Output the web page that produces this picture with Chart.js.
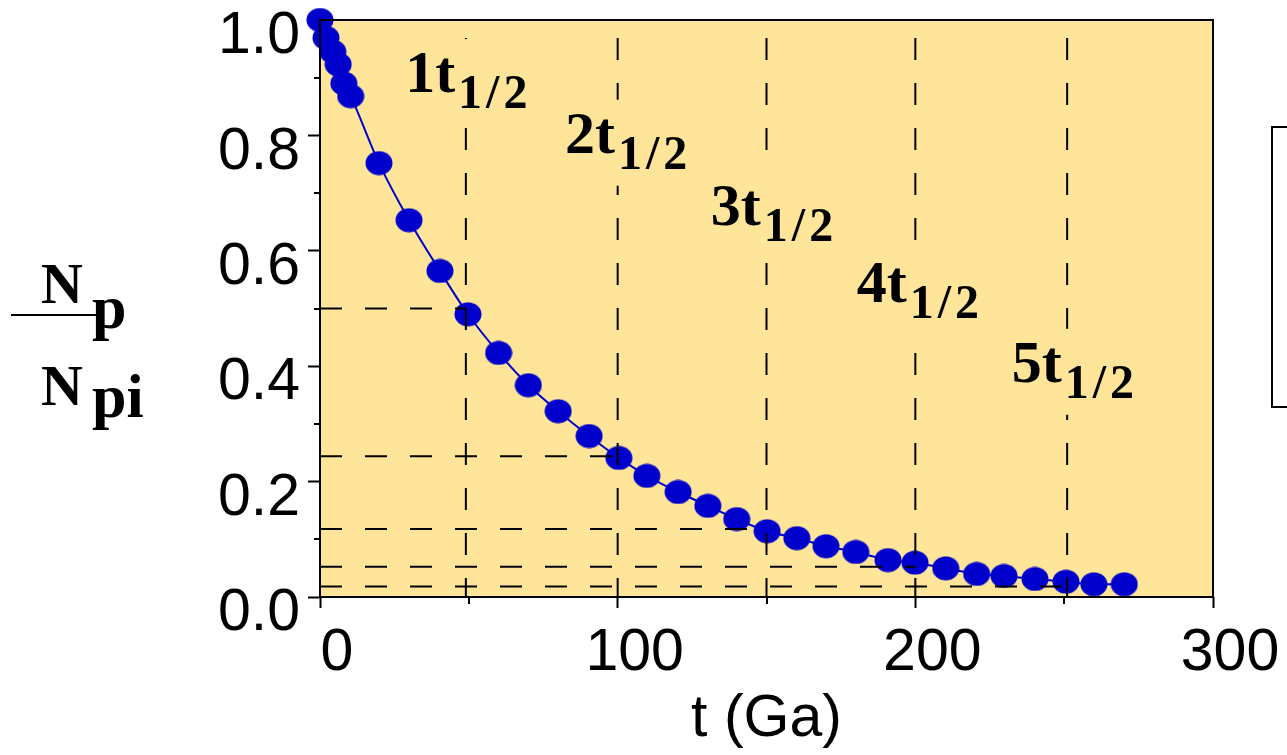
<!DOCTYPE html>
<html lang="en">
<head>
<meta charset="UTF-8">
<title>Radioactive decay and half-lives</title>
<style>
    body { margin: 0; background: #fff; }
    #wrap { width: 1287px; height: 755px; }
</style>
</head>
<body>
<div id="wrap"><canvas id="decayChart" width="1287" height="755"></canvas></div>

<script src="https://cdn.jsdelivr.net/npm/chart.js"></script>
<script>
    // elapsed time t (Ga) and remaining fraction Np/Npi
    const times = [0, 2, 4.3, 6.1, 8, 10.3, 19.8, 29.9, 40.3, 49.7, 60, 70, 80, 90.4, 100.4, 109.8,
        120.3, 130.3, 140, 150.2, 160.2, 170, 180, 190.8, 199.9, 210.2, 220.6, 229.8, 240.2, 250.6, 260, 270.2];
    const fractions = [1.0, 0.969, 0.945, 0.923, 0.890, 0.868, 0.752, 0.653, 0.565, 0.490, 0.423, 0.367,
        0.322, 0.279, 0.241, 0.210, 0.182, 0.158, 0.135, 0.114, 0.102, 0.088, 0.078, 0.064, 0.0595,
        0.0497, 0.0399, 0.0364, 0.0312, 0.0265, 0.022, 0.022];

    // dashed guide lines: one per half-life
    const halfLifeTimes = [49, 100, 150, 200, 251];
    const halfLifeLevels = [0.5, 0.244, 0.118, 0.0525, 0.018];
    const halfLifeNames = ['1', '2', '3', '4', '5'];

    const xTickValues = [0, 100, 200, 300];
    const xMinorTicks = [50, 150, 250];
    const yMinorTicks = [0.1, 0.3, 0.5, 0.7, 0.9];

    const PLOT_BG = '#fee59a';
    const BLUE = '#0000cc';
    const SANS = '"Liberation Sans", Arial, sans-serif';
    const SERIF = '"Liberation Serif", "Times New Roman", serif';

    // ellipse marker (a bit wider than tall)
    function makeMarker() {
        const c = document.createElement('canvas');
        c.width = 28; c.height = 25;
        const g = c.getContext('2d');
        g.fillStyle = BLUE;
        g.beginPath();
        g.ellipse(14, 12.5, 13.5, 12, 0, 0, Math.PI * 2);
        g.fill();
        return c;
    }

    // where each "n t1/2" label sits (text baseline, left edge), in data units
    const labelAnchors = [[28.6, 0.875], [82.3, 0.770], [131.3, 0.645], [180.3, 0.511], [232.4, 0.373]];

    // draws "1/2" with a little extra room between the glyphs, returns the width
    function drawSubscript(ctx, x, y) {
        let cx = x;
        ['1', '/', '2'].forEach(ch => {
            ctx.fillText(ch, cx, y);
            cx += ctx.measureText(ch).width + 4;
        });
        return cx - x;
    }

    const decorations = {
        id: 'decorations',
        beforeDraw(chart) {
            const { ctx, chartArea: a } = chart;
            ctx.save();
            ctx.fillStyle = PLOT_BG;
            ctx.fillRect(a.left, a.top, a.right - a.left, a.bottom - a.top);
            ctx.restore();
        },
        afterDatasetsDraw(chart) {
            const { ctx, chartArea: a, scales: { x, y } } = chart;
            ctx.save();
            ctx.strokeStyle = '#000';
            ctx.lineWidth = 2;
            ctx.setLineDash([22, 23]);
            halfLifeTimes.forEach((t, i) => {
                const px = x.getPixelForValue(t);
                ctx.lineDashOffset = 3;
                ctx.beginPath(); ctx.moveTo(px, a.bottom); ctx.lineTo(px, a.top); ctx.stroke();
                const py = y.getPixelForValue(halfLifeLevels[i]);
                ctx.lineDashOffset = 0;
                ctx.beginPath(); ctx.moveTo(a.left, py); ctx.lineTo(px, py); ctx.stroke();
            });
            ctx.setLineDash([]);

            labelAnchors.forEach((p, i) => {
                const lx = x.getPixelForValue(p[0]);
                const ly = y.getPixelForValue(p[1]);
                const main = halfLifeNames[i] + 't';
                ctx.font = 'bold 60px ' + SERIF;
                const w1 = ctx.measureText(main).width;
                ctx.fillStyle = PLOT_BG;
                ctx.fillRect(lx - 3, ly - 53, w1 + 80, 86);
                ctx.fillStyle = '#000';
                ctx.textBaseline = 'alphabetic';
                ctx.textAlign = 'left';
                ctx.fillText(main, lx, ly);
                ctx.font = 'bold 48px ' + SERIF;
                drawSubscript(ctx, lx + w1 + 3, ly + 16);
            });
            ctx.restore();
        },
        afterDraw(chart) {
            const { ctx, chartArea: a, scales: { x, y } } = chart;
            ctx.save();
            ctx.strokeStyle = '#000';
            ctx.lineWidth = 2;
            ctx.strokeRect(a.left, a.top, a.right - a.left, a.bottom - a.top);

            // minor ticks
            ctx.beginPath();
            yMinorTicks.forEach(v => {
                const py = Math.round(y.getPixelForValue(v));
                ctx.moveTo(a.left - 6, py); ctx.lineTo(a.left, py);
            });
            xMinorTicks.forEach(v => {
                const px = Math.round(x.getPixelForValue(v));
                ctx.moveTo(px, a.bottom); ctx.lineTo(px, a.bottom + 7);
            });
            ctx.stroke();

            // y axis title as a fraction
            ctx.fillStyle = '#000';
            ctx.textAlign = 'left';
            ctx.textBaseline = 'alphabetic';
            ctx.font = 'bold 58px ' + SERIF;
            ctx.fillText('N', 41, 303);
            ctx.fillText('N', 41, 405);
            ctx.font = 'bold 62px ' + SERIF;
            ctx.fillText('p', 92, 328);
            ctx.fillText('pi', 92, 417);
            ctx.beginPath();
            ctx.moveTo(11, 315); ctx.lineTo(100, 315);
            ctx.stroke();

            // legend frame, cut off at the right edge
            ctx.strokeRect(1272, 127, 60, 280);
            ctx.restore();
        }
    };

    new Chart(document.getElementById('decayChart'), {
        type: 'scatter',
        data: {
            datasets: [{
                data: times.map((t, i) => ({ x: t, y: fractions[i] })),
                showLine: true,
                borderColor: BLUE,
                borderWidth: 2,
                tension: 0.4,
                cubicInterpolationMode: 'monotone',
                pointStyle: makeMarker(),
                pointRadius: 13,
                pointHoverRadius: 13,
                clip: false
            }]
        },
        options: {
            responsive: false,
            animation: false,
            events: [],
            layout: { padding: { left: 0, top: 20, right: 74, bottom: 0 } },
            plugins: { legend: { display: false }, tooltip: { enabled: false } },
            scales: {
                x: {
                    type: 'linear',
                    min: 0, max: 300,
                    afterBuildTicks: scale => { scale.ticks = xTickValues.map(v => ({ value: v })); },
                    afterFit: scale => { scale.height = 158; scale.paddingLeft = 0; scale.paddingRight = 0; },
                    border: { display: false },
                    grid: { drawOnChartArea: false, tickLength: 11, tickWidth: 2, tickColor: '#000' },
                    ticks: {
                        color: '#000', padding: 10, labelOffset: 17, maxRotation: 0,
                        font: { family: SANS, size: 59 }
                    },
                    title: {
                        display: true, text: 't (Ga)', color: '#000', padding: 0,
                        font: { family: SANS, size: 59 }
                    }
                },
                y: {
                    min: 0, max: 1,
                    afterFit: scale => { scale.width = 320; scale.paddingTop = 0; scale.paddingBottom = 0; },
                    border: { display: false },
                    grid: { drawOnChartArea: false, tickLength: 12, tickWidth: 2, tickColor: '#000' },
                    ticks: {
                        stepSize: 0.2, color: '#000', padding: 8, labelOffset: 17,
                        font: { family: SANS, size: 59 },
                        callback: v => v.toFixed(1)
                    }
                }
            }
        },
        plugins: [decorations]
    });
</script>
</body>
</html>
